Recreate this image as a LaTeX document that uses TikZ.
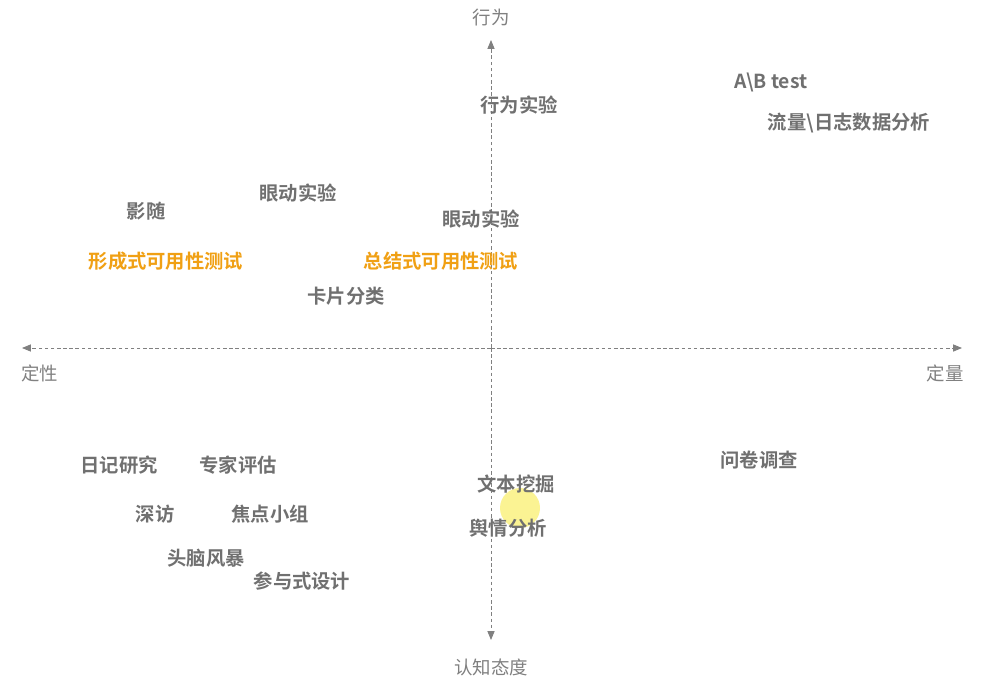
\documentclass[tikz,border=0pt]{standalone}
\usepackage{fontspec}
\setmainfont{Noto Sans CJK SC}[BoldFont={Noto Sans CJK SC Bold}]
\usetikzlibrary{arrows.meta}
\definecolor{labelgray}{RGB}{112,112,112}
\definecolor{axisgray}{RGB}{128,128,128}
\definecolor{orangetxt}{RGB}{240,160,20}
\definecolor{hilite}{RGB}{250,240,120}
\tikzset{
	method/.style = {text=labelgray, font=\fontsize{11pt}{13pt}\selectfont\bfseries, inner sep=0pt},
	usetest/.style = {method, text=orangetxt},
	axislabel/.style = {text=axisgray, font=\fontsize{10.5pt}{12pt}\selectfont, inner sep=0pt},
	axisline/.style = {axisgray, dash pattern=on 2pt off 1.5pt, line width=0.5pt,
		-{Triangle[length=5pt,width=4pt]}},
}

\begin{document}
\begin{tikzpicture}[x=0.02cm, y=-0.02cm]
	\useasboundingbox (0,0) rectangle (992,676);
%
	\coordinate (origin) at (491,348);
	\coordinate (up) at (491,40);
	\coordinate (down) at (491,640);
	\coordinate (left) at (22,348);
	\coordinate (right) at (962,348);
	\draw[axisline] (origin) -- (up);
	\draw[axisline] (origin) -- (down);
	\draw[axisline] (origin) -- (left);
	\draw[axisline] (origin) -- (right);
%
	\node[axislabel] (behaviour) at (491,18) {行为};
	\node[axislabel] (qualitative) at (40,373) {定性};
	\node[axislabel] (quantitative) at (945,373) {定量};
	\node[axislabel] (attitude) at (491,667) {认知态度};
%
	\fill[hilite, opacity=0.8] (520,508) circle (20);
%
	\node[method] (abtest) at (771,82) {A\textbackslash B test};
	\node[method] (traffic) at (849,123) {流量\textbackslash 日志数据分析};
	\node[method] (behexp) at (519,105) {行为实验};
	\node[method] (shadow) at (146,211) {影随};
	\node[method] (eyeA) at (298,193) {眼动实验};
	\node[method] (eyeB) at (481,219) {眼动实验};
	\node[usetest] (formative) at (166,261) {形成式可用性测试};
	\node[usetest] (summative) at (441,261) {总结式可用性测试};
	\node[method] (cardsort) at (346,296) {卡片分类};
	\node[method] (diary) at (119,465) {日记研究};
	\node[method] (expert) at (238,465) {专家评估};
	\node[method] (survey) at (759,460) {问卷调查};
	\node[method] (textmine) at (516,484) {文本挖掘};
	\node[method] (interview) at (155,514) {深访};
	\node[method] (focus) at (270,514) {焦点小组};
	\node[method] (opinion) at (508,528) {舆情分析};
	\node[method] (brainstorm) at (206,558) {头脑风暴};
	\node[method] (codesign) at (302,581) {参与式设计};
\end{tikzpicture}
\end{document}
